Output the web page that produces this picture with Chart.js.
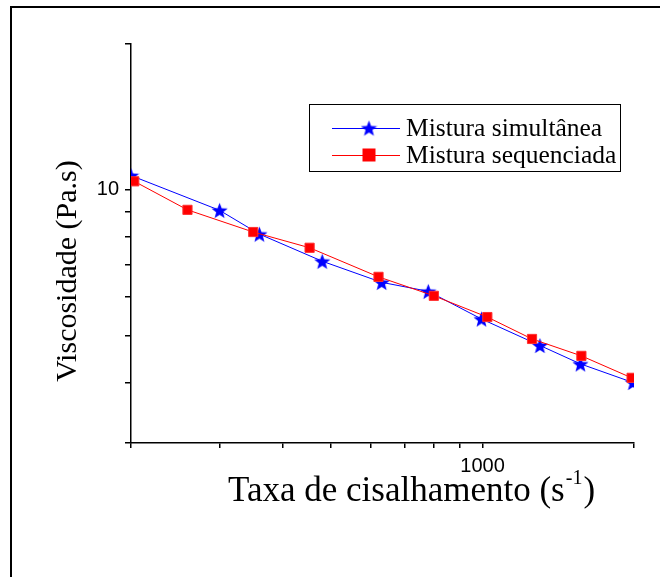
<!DOCTYPE html>
<html>
<head>
<meta charset="utf-8">
<script src="https://cdn.jsdelivr.net/npm/chart.js@4/dist/chart.umd.min.js"></script>
<style>
  html, body { margin: 0; padding: 0; background: #fff; }
  #wrap { width: 660px; height: 577px; position: relative; }
</style>
</head>
<body>
<div id="wrap"><canvas id="viscChart" width="660" height="577"></canvas></div>
<script>
// taxa de cisalhamento (1/s) e viscosidade (Pa.s)
const shearSim = [200, 300, 360, 480, 630, 780, 995, 1300, 1565, 1990];
const viscSim  = [10.7, 9.07, 8.1, 7.12, 6.44, 6.17, 5.41, 4.77, 4.37, 4.0];
const shearSeq = [203, 259, 350, 453, 621, 800, 1022, 1254, 1572, 1978];
const viscSeq  = [10.41, 9.09, 8.18, 7.59, 6.61, 6.04, 5.46, 4.92, 4.54, 4.09];

const seriesNames = ['Mistura simultânea', 'Mistura sequenciada'];
const xTicks = [200, 300, 400, 500, 600, 700, 800, 900, 1000, 2000];
const yTicks = [3, 4, 5, 6, 7, 8, 9, 10, 20];
const xLabels = [1000];
const yLabels = [10];

// estrela cheia para os pontos
function makeStar(size, color) {
  const c = document.createElement('canvas');
  c.width = size; c.height = size;
  const g = c.getContext('2d');
  const cx = size / 2, cy = size / 2 + 0.9, R = size / 2, r = R * 0.42;
  g.beginPath();
  for (let i = 0; i < 10; i++) {
    const rad = i % 2 === 0 ? R : r;
    const a = -Math.PI / 2 + i * Math.PI / 5;
    g.lineTo(cx + rad * Math.cos(a), cy + rad * Math.sin(a));
  }
  g.closePath();
  g.fillStyle = color;
  g.fill();
  return c;
}
const starImg = makeStar(17, '#0000ff');

function toPoints(xs, ys) {
  return xs.map((x, i) => ({ x: x, y: ys[i] }));
}

// moldura, títulos dos eixos e legenda
const decor = {
  id: 'decor',
  beforeDraw(chart) {
    const ctx = chart.ctx;
    ctx.save();
    ctx.fillStyle = '#fff';
    ctx.fillRect(0, 0, chart.width, chart.height);
    ctx.strokeStyle = '#000';
    ctx.lineWidth = 2;
    ctx.beginPath();
    ctx.moveTo(11, chart.height);
    ctx.lineTo(11, 7);
    ctx.lineTo(chart.width, 7);
    ctx.stroke();
    ctx.restore();
  },
  afterDraw(chart) {
    const ctx = chart.ctx;
    ctx.save();
    ctx.fillStyle = '#000';
    // título x
    ctx.textBaseline = 'alphabetic';
    const main = 'Taxa de cisalhamento (s';
    const sup = '-1';
    let x = 228, y = 501;
    ctx.font = '35px "Liberation Serif"';
    ctx.fillText(main, x, y);
    x += ctx.measureText(main).width;
    ctx.font = '20px "Liberation Serif"';
    ctx.fillText(sup, x + 1, y - 17);
    x += ctx.measureText(sup).width + 2;
    ctx.font = '35px "Liberation Serif"';
    ctx.fillText(')', x, y);
    // título y
    ctx.save();
    ctx.translate(76, 271);
    ctx.rotate(-Math.PI / 2);
    ctx.textAlign = 'center';
    ctx.font = '30px "Liberation Serif"';
    ctx.fillText('Viscosidade (Pa.s)', 0, 0);
    ctx.restore();
    // legenda
    const bx = 309, by = 104, bw = 311, bh = 67;
    ctx.lineWidth = 1;
    ctx.strokeStyle = '#000';
    ctx.strokeRect(bx + 0.5, by + 0.5, bw, bh);
    const rows = [
      { color: '#0000ff', img: starImg },
      { color: '#ff0000', img: null }
    ];
    ctx.font = '25.5px "Liberation Serif"';
    ctx.textBaseline = 'middle';
    ctx.textAlign = 'left';
    rows.forEach((r, i) => {
      const ly = by + 24 + i * 27;
      ctx.strokeStyle = r.color;
      ctx.beginPath();
      ctx.moveTo(bx + 23, ly + 0.5);
      ctx.lineTo(bx + 91, ly + 0.5);
      ctx.stroke();
      if (r.img) {
        ctx.drawImage(r.img, bx + 60 - 8.5, ly - 8.5);
      } else {
        ctx.fillStyle = r.color;
        ctx.fillRect(bx + 60 - 6.5, ly - 6.5, 13, 13);
      }
      ctx.fillStyle = '#000';
      ctx.fillText(seriesNames[i], bx + 97, ly + 1);
    });
    ctx.restore();
  }
};

const ctx = document.getElementById('viscChart').getContext('2d');
new Chart(ctx, {
  type: 'line',
  data: {
    datasets: [
      {
        label: seriesNames[0],
        data: toPoints(shearSim, viscSim),
        borderColor: '#0000ff',
        borderWidth: 1,
        pointStyle: starImg,
        pointRadius: 8,
        order: 1,
        fill: false
      },
      {
        label: seriesNames[1],
        data: toPoints(shearSeq, viscSeq),
        borderColor: '#ff0000',
        backgroundColor: '#ff0000',
        borderWidth: 1,
        pointStyle: 'rect',
        pointRadius: 6.5,
        pointBorderWidth: 1,
        pointBorderColor: '#ff3030',
        pointBackgroundColor: '#ff0000',
        order: 0,
        fill: false
      }
    ]
  },
  options: {
    responsive: false,
    animation: false,
    layout: { padding: { left: 0, top: 44, right: 26, bottom: 0 } },
    plugins: {
      legend: { display: false },
      tooltip: { enabled: false }
    },
    scales: {
      x: {
        type: 'logarithmic',
        min: 200,
        max: 2000,
        afterFit: s => { s.height = 134; },
        afterBuildTicks: s => { s.ticks = xTicks.map(v => ({ value: v })); },
        border: { color: '#000', width: 1.5 },
        grid: { drawOnChartArea: false, color: '#000', tickLength: 5, lineWidth: 1.5 },
        ticks: {
          color: '#000',
          padding: 6,
          maxRotation: 0,
          autoSkip: false,
          font: { family: '"Liberation Sans"', size: 20 },
          callback: v => (xLabels.includes(v) ? String(v) : '')
        }
      },
      y: {
        type: 'logarithmic',
        min: 3,
        max: 20,
        afterFit: s => { s.width = 131; },
        afterBuildTicks: s => { s.ticks = yTicks.map(v => ({ value: v })); },
        border: { color: '#000', width: 1.5 },
        grid: { drawOnChartArea: false, color: '#000', tickLength: 6, lineWidth: 1.5 },
        ticks: {
          color: '#000',
          padding: 6,
          autoSkip: false,
          font: { family: '"Liberation Sans"', size: 20 },
          callback: v => (yLabels.includes(v) ? String(v) : '')
        }
      }
    }
  },
  plugins: [decor]
});
</script>
</body>
</html>
